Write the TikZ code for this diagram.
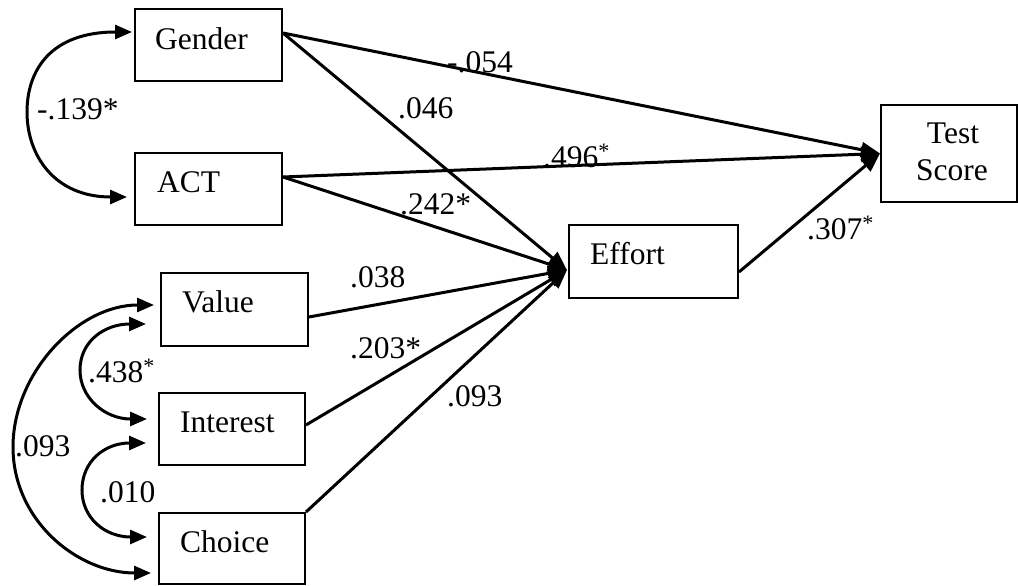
\documentclass[tikz,border=0pt]{standalone}
\usepackage{fontspec}
\setmainfont{Liberation Serif}
\usetikzlibrary{arrows.meta,calc}
\begin{document}
\begin{tikzpicture}[x=1pt,y=1pt,
  box/.style={draw, line width=2pt, inner sep=0pt},
  lab/.style={anchor=base west, inner sep=0pt, font=\fontsize{31.5}{36}\selectfont},
  ctr/.style={anchor=base, inner sep=0pt, font=\fontsize{31.5}{36}\selectfont},
  pathline/.style={line width=3pt, -{Triangle[length=19pt,width=15pt]}},
  cov/.style={line width=3pt, {Triangle[length=17pt,width=14pt]}-{Triangle[length=17pt,width=14pt]}}]
\useasboundingbox (0,0) rectangle (1018,586);
% boxes
\node[box, minimum width=147pt, minimum height=72pt] (g) at (208.5,541) {};
\node[box, minimum width=147pt, minimum height=72pt] (a) at (208.5,397) {};
\node[box, minimum width=147pt, minimum height=73pt] (v) at (234.5,276.5) {};
\node[box, minimum width=146pt, minimum height=72pt] (i) at (232,157) {};
\node[box, minimum width=146pt, minimum height=71pt] (c) at (232,37.5) {};
\node[box, minimum width=169pt, minimum height=73pt] (e) at (653.5,324.5) {};
\node[box, minimum width=136pt, minimum height=97pt] (t) at (949,432.5) {};
% box texts
\node[lab] (gt) at (155,536) {Gender};
\node[lab] (at) at (157,393) {ACT};
\node[lab] (vt) at (182,273) {Value};
\node[lab] (it) at (180,153) {Interest};
\node[lab] (ct) at (180,33) {Choice};
\node[lab] (et) at (590,321) {Effort};
\node[ctr] (tt1) at (953,442) {Test};
\node[ctr] (tt2) at (952,405) {Score};
% connector end points
\coordinate (gO) at ($(g.east)+(0,12)$);
\coordinate (aO) at ($(a.east)+(0,12)$);
\coordinate (vO) at ($(v.east)+(0,-7.5)$);
\coordinate (iO) at ($(i.east)+(0,4)$);
\coordinate (eI) at ($(e.west)+(-1,-8.5)$);
\coordinate (eO) at ($(e.east)+(0,-10.5)$);
% paths
\draw[pathline] (gO) -- (t.west);
\draw[pathline] (aO) -- (t.west);
\draw[pathline] (gO) -- (eI);
\draw[pathline] (aO) -- (eI);
\draw[pathline] (vO) -- (eI);
\draw[pathline] (iO) -- (eI);
\draw[pathline] (c.north east) -- (eI);
\draw[pathline] (eO) -- (t.west);
% covariance arcs
\coordinate (gW) at ($(g.west)+(-2,13)$);
\coordinate (aW) at ($(a.west)+(-7,-8)$);
\draw[cov] (gW) .. controls (50,554) and (27,515) .. (27,474) .. controls (27,430) and (55,389) .. (aW);
\coordinate (vW1) at ($(v.west)+(-6,4.5)$);
\coordinate (cW2) at ($(c.west)+(-7,-24.5)$);
\draw[cov] (vW1) .. controls (78,281) and (13,213) .. (13,139) .. controls (13,65) and (78,13) .. (cW2);
\coordinate (vW2) at ($(v.west)+(-14,-14.5)$);
\coordinate (iW1) at ($(i.west)+(-11,10)$);
\draw[cov] (vW2) .. controls (105,262) and (80,245) .. (80,216) .. controls (80,188) and (105,167) .. (iW1);
\coordinate (iW2) at ($(i.west)+(-12,-14)$);
\coordinate (cW1) at ($(c.west)+(-11,11.5)$);
\draw[cov] (iW2) .. controls (105,143) and (82,125) .. (82,96) .. controls (82,68) and (105,49) .. (cW1);
% coefficient labels
\node[lab] (l1) at (447,513) {-.054};
\node[lab] (l2) at (398,467) {.046};
\node[lab] (l3) at (543,418) {.496\textsuperscript{*}};
\node[lab] (l4) at (400,371) {.242*};
\node[lab] (l5) at (807,346) {.307\textsuperscript{*}};
\node[lab] (l6) at (37,466) {-.139*};
\node[lab] (l7) at (88,203) {.438\textsuperscript{*}};
\node[lab] (l8) at (15,129) {.093};
\node[lab] (l9) at (100,83) {.010};
\node[lab] (l10) at (350,298) {.038};
\node[lab] (l11) at (350,227) {.203*};
\node[lab] (l12) at (447,179) {.093};
\end{tikzpicture}
\end{document}
